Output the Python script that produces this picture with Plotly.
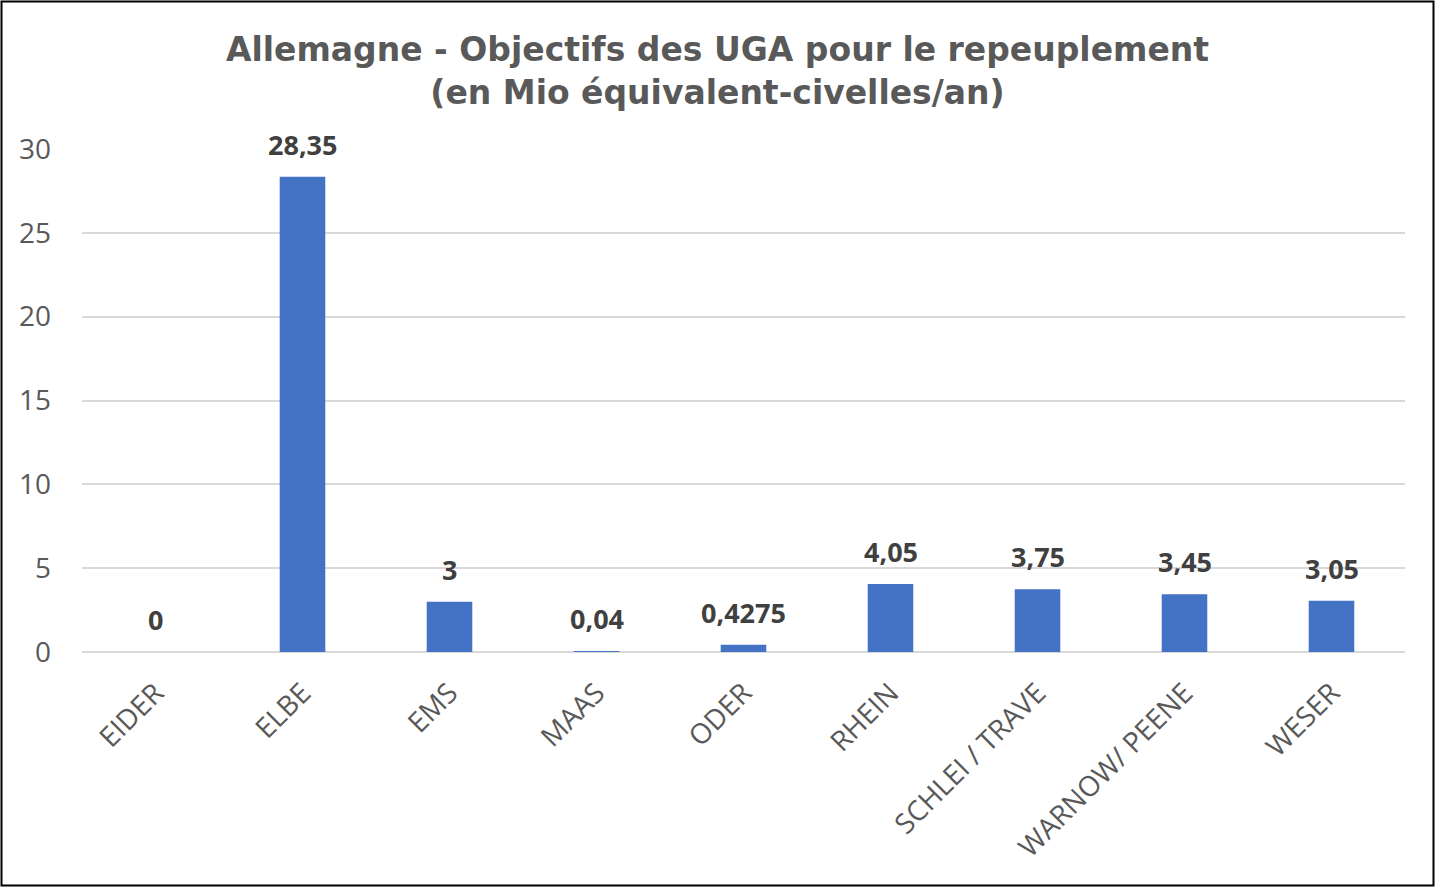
import plotly.graph_objects as go

categories = ["EIDER", "ELBE", "EMS", "MAAS", "ODER", "RHEIN", "SCHLEI / TRAVE", "WARNOW/ PEENE", "WESER"]
values = [0, 28.35, 3, 0.04, 0.4275, 4.05, 3.75, 3.45, 3.05]
labels = ["0", "28,35", "3", "0,04", "0,4275", "4,05", "3,75", "3,45", "3,05"]
y_ticks = [0, 5, 10, 15, 20, 25, 30]

title_text = "Allemagne - Objectifs des UGA pour le repeuplement<br>(en Mio équivalent-civelles/an)"

fig = go.Figure()
fig.add_trace(go.Bar(
    x=categories, y=values,
    marker=dict(color="#4472C4", line=dict(width=0)),
    hoverinfo="x+y", showlegend=False,
))

annotations = [
    dict(x=c, y=v, xref="x", yref="y", text=t, showarrow=False,
         yanchor="bottom", xanchor="center", yshift=12,
         font=dict(family="Open Sans", size=27, color="#404040", weight="bold"))
    for c, v, t in zip(categories, values, labels)
]

fig.update_layout(
    width=1435, height=887,
    paper_bgcolor="white", plot_bgcolor="white",
    margin=dict(l=82, r=30, t=149, b=235),
    bargap=0.69,
    title=dict(
        text=title_text, x=0.5, xanchor="center", xref="container",
        yref="container", y=1 - 61 / 887, yanchor="top",
        font=dict(family="DejaVu Sans", size=33, color="#595959", weight="bold"),
    ),
    xaxis=dict(
        type="category", tickangle=-45, showgrid=False, showline=False, ticks="",
        tickfont=dict(family="Open Sans", size=28, color="#595959"),
        ticklabelstandoff=18,
    ),
    yaxis=dict(
        range=[0, 30], tickvals=y_ticks, showgrid=True, gridcolor="#D9D9D9", gridwidth=2,
        zeroline=True, zerolinecolor="#D9D9D9", zerolinewidth=2, showline=False, ticks="",
        tickfont=dict(family="Open Sans", size=28, color="#595959"),
        ticklabelstandoff=30,
    ),
    annotations=annotations,
    shapes=[dict(
        type="rect", xref="paper", yref="paper",
        x0=(1.5 - 82) / 1323, x1=(1433.5 - 82) / 1323,
        y0=(652 - 885.5) / 503, y1=(652 - 1.5) / 503,
        line=dict(color="#000000", width=2), fillcolor="rgba(0,0,0,0)", layer="above",
    )],
)

fig.write_html("out.html", config={"displayModeBar": False},
               post_script="document.body.style.margin='0';")
